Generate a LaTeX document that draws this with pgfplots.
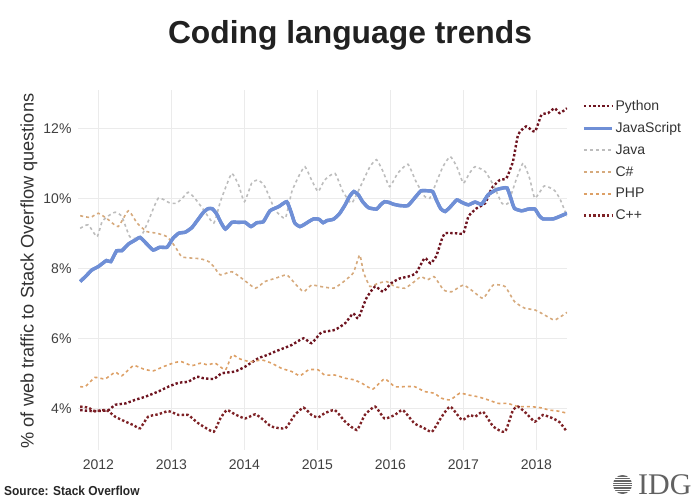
\documentclass[border=0pt]{standalone}
\usepackage{pgfplots}
\pgfplotsset{compat=1.18}
\usepackage{pgfplotstable}
\usepackage{fontspec}
\setmainfont{Liberation Sans}
\newfontfamily\narrowfont[FakeStretch=0.92]{Liberation Sans}
\newfontfamily\logofont{Liberation Serif}
\definecolor{pyred}{HTML}{6E1420}
\definecolor{cppred}{HTML}{7E2226}
\definecolor{jsblue}{HTML}{6F8FD6}
\definecolor{javagrey}{HTML}{BDBDBD}
\definecolor{cstan}{HTML}{D6AA7D}
\definecolor{phptan}{HTML}{DDA066}
\definecolor{gridgrey}{HTML}{EBEBEB}

\pgfplotstableread{
x y
2011.75 7.62
2011.83 7.78
2011.91 7.95
2012.00 8.05
2012.11 8.22
2012.17 8.19
2012.25 8.50
2012.32 8.50
2012.41 8.69
2012.50 8.80
2012.57 8.88
2012.66 8.70
2012.75 8.52
2012.84 8.60
2012.94 8.60
2013.02 8.85
2013.10 9.00
2013.19 9.03
2013.28 9.16
2013.36 9.38
2013.44 9.60
2013.50 9.70
2013.56 9.70
2013.62 9.55
2013.68 9.30
2013.74 9.12
2013.83 9.31
2013.92 9.31
2014.01 9.31
2014.09 9.19
2014.17 9.30
2014.26 9.33
2014.35 9.64
2014.47 9.76
2014.58 9.90
2014.64 9.60
2014.69 9.29
2014.76 9.19
2014.82 9.25
2014.88 9.33
2014.95 9.41
2015.02 9.40
2015.08 9.30
2015.13 9.36
2015.22 9.40
2015.30 9.55
2015.38 9.81
2015.44 10.05
2015.50 10.19
2015.56 10.10
2015.62 9.90
2015.70 9.73
2015.81 9.69
2015.87 9.82
2015.92 9.90
2015.98 9.88
2016.04 9.83
2016.13 9.79
2016.24 9.79
2016.33 10.00
2016.42 10.21
2016.52 10.21
2016.58 10.19
2016.63 9.95
2016.69 9.70
2016.75 9.62
2016.82 9.75
2016.91 9.95
2016.98 9.88
2017.07 9.81
2017.16 9.89
2017.25 9.83
2017.34 10.10
2017.45 10.24
2017.54 10.29
2017.60 10.29
2017.65 10.00
2017.70 9.71
2017.80 9.64
2017.89 9.69
2017.98 9.69
2018.04 9.50
2018.09 9.41
2018.23 9.41
2018.32 9.48
2018.42 9.57
}\jsdata

\begin{document}
\begin{tikzpicture}
\path[use as bounding box] (0pt,0pt) rectangle (700pt,500pt);
\begin{axis}[
  at={(78pt,50pt)}, anchor=south west,
  scale only axis, width=489pt, height=360pt,
  xmin=2011.72, xmax=2018.42, ymin=2.81, ymax=13.09,
  xtick={2012,2013,2014,2015,2016,2017,2018},
  xticklabels={2012,2013,2014,2015,2016,2017,2018},
  ytick={4,6,8,10,12},
  yticklabels={4\%,6\%,8\%,10\%,12\%},
  ticklabel style={font=\fontsize{14}{16}\selectfont, text=black!75},
  xticklabel style={yshift=-6pt},
  yticklabel style={xshift=-3pt},
  grid=major, major grid style={color=gridgrey, line width=0.8pt},
  axis line style={draw=none}, tick style={draw=none},
  every axis plot/.append style={smooth, tension=0.3},
  legend style={at={(1,1)}, anchor=north west, xshift=12pt, yshift=-6pt,
    draw=none, fill=none, font=\fontsize{14}{15}\selectfont, text=black!80,
    row sep=6.6pt, cells={anchor=west}},
  legend cell align=left,
  legend image code/.code={\draw[#1] (0pt,0pt) -- (28pt,0pt);},
]
\addplot[pyred, line width=2.4pt, dash pattern=on 2.4pt off 2.2pt] table {
2011.75 3.95
2011.91 3.92
2012.05 3.93
2012.14 3.95
2012.23 4.10
2012.37 4.14
2012.50 4.24
2012.64 4.33
2012.82 4.48
2012.96 4.62
2013.10 4.73
2013.23 4.76
2013.35 4.90
2013.44 4.86
2013.58 4.84
2013.69 5.00
2013.87 5.05
2014.01 5.19
2014.19 5.43
2014.31 5.52
2014.42 5.62
2014.53 5.71
2014.65 5.81
2014.81 6.00
2014.92 5.86
2015.04 6.14
2015.10 6.19
2015.24 6.24
2015.38 6.43
2015.49 6.71
2015.56 6.57
2015.67 7.14
2015.79 7.48
2015.90 7.33
2016.01 7.57
2016.13 7.71
2016.24 7.76
2016.35 7.86
2016.47 8.29
2016.55 8.14
2016.63 8.35
2016.70 8.80
2016.75 9.00
2016.89 9.00
2017.00 9.00
2017.07 9.48
2017.18 9.71
2017.30 9.86
2017.39 10.29
2017.50 10.52
2017.59 10.57
2017.68 11.05
2017.75 11.81
2017.86 12.05
2017.98 11.90
2018.07 12.38
2018.16 12.43
2018.25 12.57
2018.32 12.43
2018.42 12.57
};
\addlegendentry{Python}
\addplot[jsblue, line width=3.4pt] table {\jsdata};
\addlegendentry{JavaScript}
\addplot[javagrey, line width=1.6pt, dash pattern=on 3pt off 3pt] table {
2011.75 9.14
2011.86 9.24
2011.98 8.90
2012.05 9.33
2012.14 9.50
2012.23 9.60
2012.32 9.48
2012.43 8.90
2012.57 8.86
2012.68 9.33
2012.82 10.00
2012.98 9.86
2013.07 9.86
2013.15 10.00
2013.23 10.17
2013.32 10.00
2013.44 9.67
2013.58 9.29
2013.67 9.90
2013.76 10.40
2013.83 10.71
2013.92 10.38
2014.00 9.90
2014.10 10.43
2014.19 10.52
2014.28 10.33
2014.42 9.67
2014.56 9.43
2014.65 10.19
2014.75 10.65
2014.83 10.90
2014.92 10.52
2015.01 10.19
2015.10 10.52
2015.24 10.71
2015.35 10.19
2015.47 9.86
2015.60 10.38
2015.72 10.90
2015.81 11.10
2015.90 10.76
2015.99 10.33
2016.10 10.71
2016.24 10.97
2016.35 10.48
2016.47 10.05
2016.54 10.00
2016.62 10.40
2016.72 10.90
2016.82 11.19
2016.91 10.90
2017.00 10.43
2017.08 10.70
2017.16 10.90
2017.30 10.76
2017.41 10.38
2017.53 9.85
2017.61 9.85
2017.73 10.57
2017.82 11.00
2017.91 10.55
2017.98 10.00
2018.11 10.35
2018.25 10.22
2018.33 9.95
2018.42 9.48
};
\addlegendentry{Java}
\addplot[cstan, line width=1.6pt, dash pattern=on 3pt off 3pt] table {
2011.75 9.50
2011.89 9.45
2012.00 9.57
2012.14 9.38
2012.27 9.19
2012.41 9.64
2012.53 9.29
2012.66 9.05
2012.80 9.00
2012.94 8.90
2013.05 8.62
2013.14 8.33
2013.28 8.29
2013.40 8.27
2013.51 8.19
2013.58 8.05
2013.67 7.81
2013.83 7.90
2013.99 7.67
2014.15 7.43
2014.28 7.62
2014.42 7.71
2014.58 7.81
2014.69 7.57
2014.81 7.33
2014.92 7.52
2015.04 7.48
2015.22 7.43
2015.33 7.57
2015.49 7.86
2015.58 8.38
2015.63 7.90
2015.72 7.48
2015.83 7.57
2015.95 7.62
2016.06 7.48
2016.20 7.43
2016.33 7.62
2016.42 7.76
2016.51 7.67
2016.60 7.76
2016.73 7.38
2016.84 7.33
2017.00 7.52
2017.14 7.33
2017.27 7.14
2017.41 7.52
2017.57 7.48
2017.70 7.05
2017.84 6.86
2017.98 6.81
2018.11 6.67
2018.25 6.52
2018.42 6.74
};
\addlegendentry{C\#}
\addplot[phptan, line width=1.6pt, dash pattern=on 3pt off 3pt] table {
2011.75 4.62
2011.82 4.62
2011.95 4.88
2012.09 4.84
2012.23 5.03
2012.32 4.93
2012.48 5.22
2012.62 5.12
2012.75 5.07
2012.89 5.19
2013.05 5.31
2013.14 5.33
2013.28 5.22
2013.40 5.29
2013.50 5.24
2013.60 5.29
2013.74 5.10
2013.83 5.52
2013.94 5.41
2014.08 5.33
2014.24 5.38
2014.37 5.29
2014.51 5.14
2014.65 5.05
2014.76 4.93
2014.88 5.10
2015.01 5.10
2015.10 4.95
2015.24 4.95
2015.38 4.86
2015.51 4.81
2015.63 4.69
2015.76 4.55
2015.92 4.84
2016.06 4.62
2016.20 4.62
2016.33 4.62
2016.47 4.48
2016.60 4.43
2016.70 4.29
2016.82 4.24
2016.95 4.43
2017.07 4.38
2017.20 4.33
2017.34 4.24
2017.48 4.14
2017.61 4.14
2017.75 4.05
2017.91 4.05
2018.05 4.02
2018.18 3.95
2018.30 3.92
2018.42 3.86
};
\addlegendentry{PHP}
\addplot[cppred, line width=2.4pt, dash pattern=on 2.4pt off 2.2pt] table {
2011.75 4.05
2011.86 4.02
2011.95 3.92
2012.11 3.95
2012.23 3.76
2012.37 3.62
2012.48 3.52
2012.57 3.43
2012.68 3.76
2012.82 3.83
2012.96 3.92
2013.10 3.81
2013.23 3.81
2013.35 3.60
2013.44 3.48
2013.58 3.33
2013.67 3.71
2013.76 3.95
2013.87 3.83
2014.01 3.71
2014.15 3.83
2014.26 3.67
2014.37 3.48
2014.56 3.43
2014.69 3.81
2014.81 4.02
2014.92 3.81
2015.01 3.74
2015.10 3.86
2015.24 3.95
2015.38 3.62
2015.54 3.38
2015.65 3.81
2015.79 4.05
2015.92 3.71
2016.06 3.81
2016.17 3.95
2016.33 3.57
2016.45 3.45
2016.57 3.33
2016.70 3.75
2016.82 4.05
2016.98 3.67
2017.09 3.81
2017.16 3.76
2017.27 3.90
2017.41 3.48
2017.57 3.33
2017.68 3.95
2017.75 4.05
2017.86 3.86
2017.98 3.62
2018.09 3.81
2018.23 3.71
2018.32 3.60
2018.42 3.33
};
\addlegendentry{C++}
\addplot[jsblue, line width=3.4pt, forget plot] table {\jsdata};
\end{axis}
% title
\node[font=\bfseries\fontsize{31.8}{36}\selectfont, text=black!87] at (350pt,465pt) {Coding language trends};
% y label
\node[rotate=90, font=\fontsize{18.2}{20}\selectfont, text=black!80] at (29pt,229pt) {\% of web traffic to Stack Overflow questions};
% source
\node[anchor=west, font=\narrowfont\bfseries\fontsize{13}{15}\selectfont, text=black!85, inner sep=0pt] at (4pt,9.5pt) {Source: Stack Overflow};
% logo
\fill[black!60] (622.5pt,15.5pt) circle (9.5pt);
\foreach \dy in {-7,-4.6,-2.2,0.2,2.6,5,7.4}{
  \draw[white, line width=0.7pt] (612pt,15.5pt+\dy pt) -- (633pt,15.5pt+\dy pt);
}
\node[anchor=west, font=\logofont\fontsize{30}{32}\selectfont, text=black!62, inner sep=0pt] at (638pt,15.5pt) {IDG};
\end{tikzpicture}
\end{document}
